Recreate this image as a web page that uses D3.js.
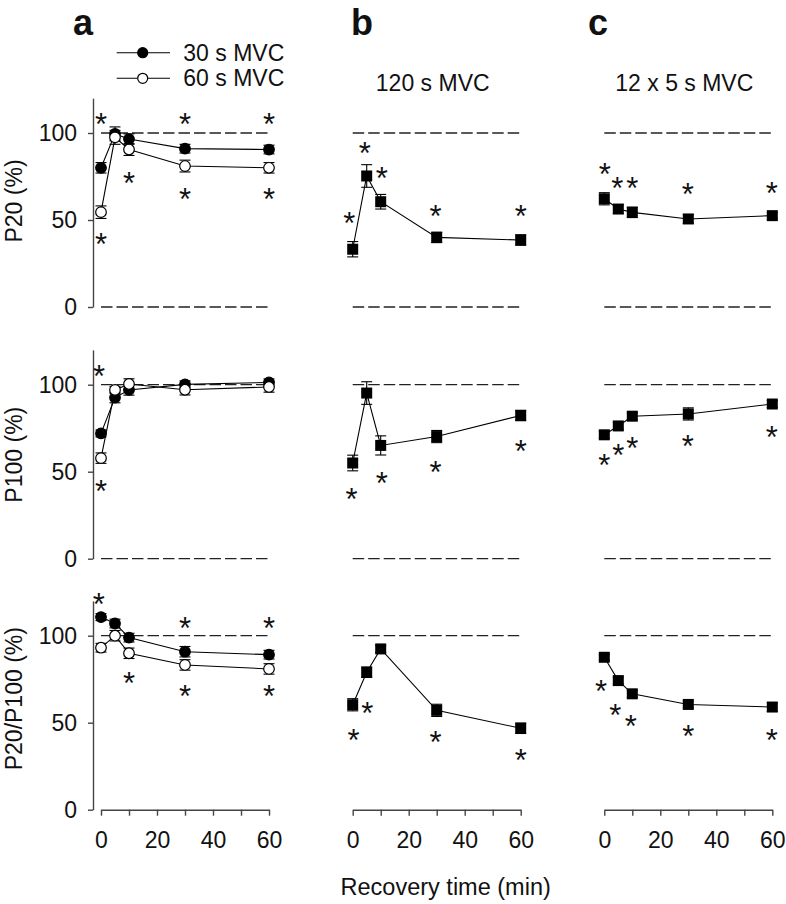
<!DOCTYPE html>
<html>
<head>
<meta charset="utf-8">
<script src="https://cdn.jsdelivr.net/npm/d3@7"></script>
<style>
  body { margin: 0; background: #fff; }
  svg text { font-family: "Liberation Sans", Arial, Helvetica, sans-serif; fill: #111; }
</style>
</head>
<body>
<script>
// recovery time points (min)
var times = [0, 5, 10, 30, 60];
var xTicks = [0, 10, 20, 30, 40, 50, 60];
var yTicks = [0, 50, 100];
var rowLabels = ["P20 (%)", "P100 (%)", "P20/P100 (%)"];
var panelLetters = ["a", "b", "c"];
var panelTitles = ["", "120 s MVC", "12 x 5 s MVC"];
var legendLabels = ["30 s MVC", "60 s MVC"];
var xLabel = "Recovery time (min)";

// panel a: 30 s MVC (filled) and 60 s MVC (open)
var a30_p20 = [80, 99.5, 96.5, 91, 90.5];
var a30_p20_se = [3, 4, 3, 2.5, 2.5];
var a60_p20 = [54.5, 97.5, 90.5, 81, 80];
var a60_p20_se = [3.6, 4, 3.4, 3.4, 3];
var a30_p100 = [72, 92.6, 97, 100.2, 101.3];
var a30_p100_se = [2, 3, 3, 2, 2];
var a60_p100 = [57.8, 97, 100.4, 97.1, 98.7];
var a60_p100_se = [3, 2, 3, 3, 3];
var a30_ratio = [110.7, 107, 98.9, 90.8, 89.1];
var a30_ratio_se = [2, 2.5, 2.5, 3, 2.5];
var a60_ratio = [93.1, 100, 89.9, 83.2, 80.9];
var a60_ratio_se = [2.5, 3, 3, 3, 3];

// panel b: 120 s MVC
var b120_p20 = [33.2, 75.3, 60.5, 40, 38.5];
var b120_p20_se = [4.4, 6.5, 4.2, 3, 3];
var b120_p100 = [55, 95.2, 65.1, 70.2, 82.3];
var b120_p100_se = [4.5, 6.5, 5.5, 3.5, 3];
var b120_ratio = [60.3, 79, 92.4, 57.1, 46.8];
var b120_ratio_se = [3.5, 3, 2, 3.5, 3];

// panel c: 12 x 5 s MVC
var c12_p20 = [62.2, 56.3, 54.4, 50.6, 52.5];
var c12_p20_se = [3.5, 2.5, 3, 2.5, 2];
var c12_p100 = [71.2, 76.3, 81.9, 83.2, 88.9];
var c12_p100_se = [2, 2, 2, 3.5, 2];
var c12_ratio = [87.6, 74.2, 66.6, 60.5, 59];
var c12_ratio_se = [1.5, 2, 2, 2, 2.5];

// significance stars [time, value]
var starsA = [
  [[0, 109], [0, 40], [10, 75], [30, 109], [30, 66], [60, 109], [60, 66]],
  [[-0.7, 109], [0, 42.8]],
  [[-0.8, 122], [10, 76.7], [30, 108.6], [30, 69.3], [60, 108.6], [60, 69.3]]
];
var starsB = [
  [[-1.2, 52], [4.3, 92.7], [10.4, 78], [29.6, 56], [60, 56]],
  [[-0.4, 38], [10.4, 47.5], [29.6, 53.8], [60, 66]],
  [[0.3, 44], [5.2, 59.5], [29.6, 42.6], [60, 32.5]]
];
var starsC = [
  [[0.2, 80.6], [4.6, 72.4], [10, 72.4], [29.8, 68.8], [59.8, 69.7]],
  [[0, 57.8], [5, 63.4], [10, 67.6], [29.8, 68.9], [59.8, 74.1]],
  [[-1.2, 72], [3.9, 58.4], [9.5, 51.9], [30, 46.2], [59.8, 43.7]]
];

// build panel table: [column][row] -> list of series
function ser(v, se, type) {
  return times.map(function(t, i) { return {t: t, v: v[i], se: se[i], type: type}; });
}
var panels = [
  [
    {series: [ser(a30_p20, a30_p20_se, "filled"), ser(a60_p20, a60_p20_se, "open")], stars: starsA[0]},
    {series: [ser(a30_p100, a30_p100_se, "filled"), ser(a60_p100, a60_p100_se, "open")], stars: starsA[1]},
    {series: [ser(a30_ratio, a30_ratio_se, "filled"), ser(a60_ratio, a60_ratio_se, "open")], stars: starsA[2]}
  ],
  [
    {series: [ser(b120_p20, b120_p20_se, "square")], stars: starsB[0]},
    {series: [ser(b120_p100, b120_p100_se, "square")], stars: starsB[1]},
    {series: [ser(b120_ratio, b120_ratio_se, "square")], stars: starsB[2]}
  ],
  [
    {series: [ser(c12_p20, c12_p20_se, "square")], stars: starsC[0]},
    {series: [ser(c12_p100, c12_p100_se, "square")], stars: starsC[1]},
    {series: [ser(c12_ratio, c12_ratio_se, "square")], stars: starsC[2]}
  ]
];

var w = 786, h = 904;
var colLeft = [101, 352.7, 604.3];
var colWidth = 168;
var rowBottom = [307, 558.7, 809.7];
var rowHeight = 208.8;
var starSize = 31;

var svg = d3.select("body").append("svg")
    .attr("width", w)
    .attr("height", h);

var line = d3.line();

panels.forEach(function(col, ci) {
  var x = d3.scaleLinear().domain([0, 60]).range([colLeft[ci], colLeft[ci] + colWidth]);

  col.forEach(function(p, ri) {
    var y = d3.scaleLinear().domain([0, 120]).range([rowBottom[ri], rowBottom[ri] - rowHeight]);
    var g = svg.append("g");

    // dashed reference lines
    var refs = ri < 2 ? [0, 100] : [100];
    g.selectAll("line.ref").data(refs).enter().append("line")
      .attr("class", "ref")
      .attr("x1", x(0)).attr("x2", x(60))
      .attr("y1", function(d) { return y(d); })
      .attr("y2", function(d) { return y(d); })
      .attr("stroke", "#222")
      .attr("stroke-width", 1.3)
      .attr("stroke-dasharray", "11.5,4");

    // y axis only in first column
    if (ci === 0) {
      var ya = g.append("g")
        .attr("transform", "translate(" + (colLeft[0] - 8) + ",0)")
        .call(d3.axisLeft(y).tickValues(yTicks).tickSizeInner(5).tickSizeOuter(0).tickPadding(11));
      ya.select(".domain").attr("stroke", "#444").attr("stroke-width", 1.4);
      ya.selectAll(".tick line").attr("stroke", "#444").attr("stroke-width", 1.4);
      ya.selectAll(".tick text").attr("font-size", 23).attr("fill", "#111")
        .attr("font-family", "Liberation Sans, Arial, sans-serif");

      svg.append("text")
        .attr("transform", "translate(22," + (rowBottom[ri] - [106, 104, 111][ri]) + ") rotate(-90)")
        .attr("text-anchor", "middle")
        .attr("font-size", 23)
        .text(rowLabels[ri]);
    }

    // x axis only on bottom row
    if (ri === 2) {
      var xa = g.append("g")
        .attr("transform", "translate(0," + rowBottom[ri] + ")")
        .call(d3.axisBottom(x).tickValues(xTicks)
          .tickFormat(function(d) { return d % 20 === 0 ? d : ""; })
          .tickSizeInner(6).tickSizeOuter(0).tickPadding(16));
      xa.select(".domain").attr("stroke", "#444").attr("stroke-width", 1.4);
      xa.selectAll(".tick line").attr("stroke", "#444").attr("stroke-width", 1.4);
      xa.selectAll(".tick text").attr("font-size", 23).attr("fill", "#111")
        .attr("font-family", "Liberation Sans, Arial, sans-serif");
    }

    p.series.forEach(function(s) {
      // connecting line
      g.append("path")
        .attr("d", line(s.map(function(d) { return [x(d.t), y(d.v)]; })))
        .attr("fill", "none")
        .attr("stroke", "#000")
        .attr("stroke-width", 1.1);

      // error bars
      var eb = g.selectAll(null).data(s).enter().append("g").attr("stroke", "#000").attr("stroke-width", 1.1);
      eb.append("line")
        .attr("x1", function(d) { return x(d.t); }).attr("x2", function(d) { return x(d.t); })
        .attr("y1", function(d) { return y(d.v - d.se); }).attr("y2", function(d) { return y(d.v + d.se); });
      eb.append("line")
        .attr("x1", function(d) { return x(d.t) - 5.5; }).attr("x2", function(d) { return x(d.t) + 5.5; })
        .attr("y1", function(d) { return y(d.v + d.se); }).attr("y2", function(d) { return y(d.v + d.se); });
      eb.append("line")
        .attr("x1", function(d) { return x(d.t) - 5.5; }).attr("x2", function(d) { return x(d.t) + 5.5; })
        .attr("y1", function(d) { return y(d.v - d.se); }).attr("y2", function(d) { return y(d.v - d.se); });

      // markers
      if (s[0].type === "square") {
        g.selectAll(null).data(s).enter().append("rect")
          .attr("x", function(d) { return x(d.t) - 5.5; })
          .attr("y", function(d) { return y(d.v) - 5.5; })
          .attr("width", 11).attr("height", 11)
          .attr("fill", "#000");
      } else {
        g.selectAll(null).data(s).enter().append("circle")
          .attr("cx", function(d) { return x(d.t); })
          .attr("cy", function(d) { return y(d.v); })
          .attr("r", 5.3)
          .attr("fill", function(d) { return d.type === "filled" ? "#000" : "#fff"; })
          .attr("stroke", "#000")
          .attr("stroke-width", 1.2);
      }
    });

    // significance stars
    g.selectAll("text.star").data(p.stars).enter().append("text")
      .attr("class", "star")
      .attr("x", function(d) { return x(d[0]); })
      .attr("y", function(d) { return y(d[1]) + 0.575 * starSize; })
      .attr("text-anchor", "middle")
      .attr("font-size", starSize)
      .text("*");
  });

  // panel letter and title
  svg.append("text")
    .attr("x", [73, 351, 588][ci])
    .attr("y", 35)
    .attr("font-size", 36)
    .attr("font-weight", "bold")
    .text(panelLetters[ci]);

  if (panelTitles[ci]) {
    svg.append("text")
      .attr("x", x(30) - 4)
      .attr("y", 91)
      .attr("text-anchor", "middle")
      .attr("font-size", 23)
      .text(panelTitles[ci]);
  }

  if (ci === 1) {
    svg.append("text")
      .attr("x", x(30) + 9)
      .attr("y", 895)
      .attr("text-anchor", "middle")
      .attr("font-size", 23.5)
      .text(xLabel);
  }
});

// legend
var legY = [52.7, 78.3];
var leg = svg.append("g");
legendLabels.forEach(function(lab, i) {
  leg.append("line")
    .attr("x1", 116.7).attr("x2", 170)
    .attr("y1", legY[i]).attr("y2", legY[i])
    .attr("stroke", "#000").attr("stroke-width", 1.1);
  leg.append("circle")
    .attr("cx", 142.7).attr("cy", legY[i]).attr("r", 5)
    .attr("fill", i === 0 ? "#000" : "#fff")
    .attr("stroke", "#000").attr("stroke-width", 1.2);
  leg.append("text")
    .attr("x", 183.3).attr("y", legY[i] + 8)
    .attr("font-size", 23)
    .text(lab);
});
</script>
</body>
</html>
